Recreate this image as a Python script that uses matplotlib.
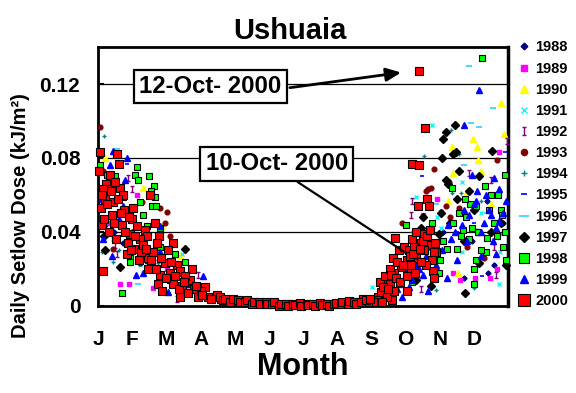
import matplotlib
matplotlib.use("Agg")
import matplotlib.pyplot as plt
from matplotlib.path import Path

plt.rcParams['font.family'] = ['Liberation Sans', 'DejaVu Sans']
plt.rcParams['font.weight'] = 'bold'

# ---------------- data (x = month position 0..12, y = dose kJ/m2) ----------------
month_labels = ["J", "F", "M", "A", "M", "J", "J", "A", "S", "O", "N", "D"]
y_ticks = [0, 0.04, 0.08, 0.12]
y_tick_labels = ["0", "0.04", "0.08", "0.12"]
years = ["1988", "1989", "1990", "1991", "1992", "1993", "1994",
         "1995", "1996", "1997", "1998", "1999", "2000"]

m_1988 = [0.20, 0.72, 1.13, 0.45, 1.60, 2.30, 9.60, 10.72, 11.40, 11.42, 11.60, 10.10, 10.95, 11.85, 9.90]
v_1988 = [0.044, 0.034, 0.031, 0.040, 0.025, 0.010, 0.030, 0.015, 0.057, 0.018, 0.022, 0.040, 0.035, 0.045, 0.020]

m_1989 = [1.13, 0.64, 0.90, 1.60, 2.00, 2.60, 11.75, 9.50, 9.93, 10.05, 10.38, 10.60, 11.04, 11.48, 11.68, 9.76, 0.30]
v_1989 = [0.060, 0.012, 0.012, 0.0097, 0.020, 0.008, 0.083, 0.049, 0.058, 0.051, 0.018, 0.014, 0.015, 0.015, 0.020, 0.019, 0.045]

m_1990 = [0.20, 0.25, 1.31, 1.86, 2.40, 11.80, 11.87, 10.98, 11.10, 10.37, 11.13, 10.40, 11.20, 10.55, 10.23, 9.76, 10.80, 11.50]
v_1990 = [0.080, 0.068, 0.064, 0.043, 0.027, 0.110, 0.093, 0.090, 0.086, 0.086, 0.079, 0.072, 0.073, 0.018, 0.057, 0.043, 0.062, 0.055]

m_1991 = [2.45, 1.22, 0.44, 0.54, 9.76, 10.66, 9.30, 9.93, 10.05, 11.76, 11.73, 10.66, 8.03, 11.20, 0.90]
v_1991 = [0.028, 0.022, 0.036, 0.049, 0.098, 0.067, 0.059, 0.048, 0.042, 0.029, 0.012, 0.029, 0.010, 0.050, 0.030]

m_1992 = [9.20, 9.17, 10.87, 11.50, 11.97, 11.65, 9.44, 9.20, 11.60, 0.87, 0.99, 0.49, 0.54, 2.92, 2.30, 10.30, 11.10]
v_1992 = [0.057, 0.049, 0.072, 0.068, 0.089, 0.017, 0.009, 0.028, 0.032, 0.069, 0.063, 0.033, 0.028, 0.017, 0.004, 0.045, 0.040]

m_1993 = [0.05, 2.00, 1.96, 2.10, 1.28, 0.44, 1.22, 1.80, 0.14, 9.84, 9.75, 10.28, 8.90, 10.31, 10.58, 11.68, 11.65,
          11.30, 10.19, 10.81, 9.60, 9.65]
v_1993 = [0.097, 0.051, 0.045, 0.038, 0.056, 0.031, 0.023, 0.053, 0.073, 0.074, 0.064, 0.067, 0.045, 0.048, 0.053, 0.079,
          0.040, 0.026, 0.054, 0.032, 0.062, 0.063]

m_1994 = [0.17, 0.11, 0.60, 0.44, 1.22, 1.75, 10.34, 9.53, 10.58, 10.37, 10.62, 9.90, 11.00, 11.76, 11.22, 9.20]
v_1994 = [0.092, 0.029, 0.030, 0.024, 0.027, 0.023, 0.095, 0.081, 0.082, 0.061, 0.061, 0.0086, 0.0097, 0.039, 0.057, 0.040]

m_1995 = [0.84, 9.47, 11.24, 11.90, 10.50, 1.50, 11.00]
v_1995 = [0.077, 0.070, 0.016, 0.083, 0.040, 0.030, 0.045]

m_1996 = [10.87, 11.57, 10.93, 11.16, 10.70, 0.55, 1.16, 1.75, 0.30, 9.90, 11.40]
v_1996 = [0.130, 0.107, 0.099, 0.097, 0.076, 0.085, 0.012, 0.029, 0.060, 0.055, 0.050]

m_1997 = [10.46, 10.17, 10.10, 10.48, 10.40, 10.08, 10.58, 11.54, 10.19, 10.25, 10.52, 10.87, 11.16, 10.05, 9.50, 9.46,
          9.97, 8.90, 9.30, 9.74, 10.75, 11.15, 11.94, 0.20, 0.63, 2.53, 0.17, 11.80, 11.50, 10.70, 10.30, 11.00]
v_1997 = [0.098, 0.094, 0.090, 0.083, 0.082, 0.080, 0.073, 0.084, 0.068, 0.066, 0.058, 0.062, 0.070, 0.050, 0.048, 0.042,
          0.039, 0.030, 0.014, 0.011, 0.007, 0.023, 0.022, 0.030, 0.021, 0.031, 0.038, 0.045, 0.040, 0.035, 0.045, 0.052]

m_1998 = [11.25, 11.92, 10.35, 11.33, 11.50, 9.00, 9.76, 10.58, 10.78, 11.07, 11.80, 11.83, 10.67, 11.39, 10.22, 10.87,
          11.36, 11.68, 11.86, 11.95, 11.00, 11.00, 9.97, 9.20, 9.00, 10.50, 10.00, 11.07, 10.95, 11.60,
          10.40, 10.62, 10.90, 11.12, 11.45, 11.72, 11.90, 10.10, 10.75, 11.20,
          0.05, 1.13, 1.49, 1.08, 1.17, 1.63, 1.54, 1.66, 1.22, 1.57, 1.70, 0.72, 0.49, 0.25, 1.31, 1.42, 1.80, 0.93,
          0.93, 2.54, 2.24, 0.69, 2.40, 1.80, 2.10, 3.30, 8.60]
v_1998 = [0.134, 0.071, 0.064, 0.065, 0.060, 0.044, 0.045, 0.050, 0.048, 0.054, 0.052, 0.049, 0.041, 0.037, 0.031, 0.036,
          0.029, 0.038, 0.032, 0.025, 0.020, 0.012, 0.018, 0.013, 0.008, 0.031, 0.025, 0.025, 0.042, 0.045,
          0.045, 0.038, 0.055, 0.040, 0.052, 0.060, 0.040, 0.035, 0.058, 0.030,
          0.076, 0.075, 0.070, 0.071, 0.068, 0.065, 0.062, 0.059, 0.056, 0.054, 0.054, 0.059, 0.070, 0.071, 0.049, 0.043,
          0.042, 0.026, 0.024, 0.024, 0.028, 0.007, 0.018, 0.032, 0.014, 0.003, 0.005]

m_1999 = [0.44, 0.84, 0.34, 0.78, 0.11, 0.72, 0.93, 0.14, 0.40, 1.10, 1.31, 1.80, 2.03, 3.06, 1.80, 1.45, 0.60, 1.00, 2.60,
          10.70, 11.16, 10.96, 11.60, 11.75, 11.36, 11.07, 10.87, 11.50, 11.65, 11.95, 10.64, 10.34, 10.08, 9.60, 9.90,
          11.65, 10.20, 9.67, 8.74, 8.33, 9.20, 9.50, 11.22, 11.75, 11.20, 10.50, 9.40,
          8.80, 9.00, 9.10, 8.90, 9.30,
          10.45, 10.70, 10.80, 11.00, 11.30, 11.45, 11.55, 11.85, 10.25, 11.10]
v_1999 = [0.084, 0.080, 0.076, 0.068, 0.058, 0.054, 0.052, 0.036, 0.027, 0.017, 0.018, 0.029, 0.0075, 0.016, 0.043, 0.025,
          0.047, 0.040, 0.012,
          0.098, 0.117, 0.071, 0.069, 0.063, 0.060, 0.057, 0.049, 0.049, 0.042, 0.057, 0.044, 0.036, 0.030, 0.027, 0.022,
          0.028, 0.015, 0.008, 0.009, 0.007, 0.014, 0.017, 0.027, 0.046, 0.040, 0.025, 0.020,
          0.012, 0.018, 0.010, 0.005, 0.022,
          0.040, 0.052, 0.035, 0.055, 0.045, 0.052, 0.035, 0.050, 0.044, 0.062]

m_2000 = [0.05, 0.54, 0.61, 0.23, 0.28, 0.63, 0.72, 0.43, 0.08, 1.02, 1.51, 0.40, 0.11, 0.69, 0.99, 1.66, 1.13, 1.37,
          0.93, 1.42, 1.77, 1.22, 1.72, 2.19, 0.84, 1.45, 2.04, 0.14, 1.45, 1.95, 2.30, 1.80, 1.75, 1.86, 2.39, 2.74,
          2.45, 2.39, 2.68, 2.92, 3.12, 3.21, 3.47, 0.14, 0.20, 0.35, 0.50, 0.75, 0.90, 1.05, 1.25, 1.60, 2.10, 2.20,
          2.55, 2.80, 3.00, 3.30, 3.60, 3.75, 3.90, 4.05, 4.20, 4.40, 4.60, 4.80, 5.00, 5.20, 5.40, 5.60, 5.80, 6.00,
          6.20, 6.40, 6.60, 6.80, 7.00, 7.20, 7.40, 7.60, 7.80, 8.00, 8.10, 8.20,
          9.57, 9.20, 9.40, 9.64, 9.35, 9.70, 8.70, 9.20, 9.50, 9.46, 9.67, 9.87, 9.90, 8.62, 9.03, 9.32, 9.76, 8.88,
          9.17, 9.79, 9.84, 8.67, 8.47, 9.03, 8.53, 8.24, 8.27, 8.15, 8.59, 7.75, 9.38,
          8.35, 8.40, 8.55, 8.75, 8.80, 8.95, 9.10, 9.15, 9.25, 9.30, 9.55, 9.60, 8.45, 8.65, 8.30, 8.05, 7.90]
v_2000 = [0.083, 0.082, 0.077, 0.066, 0.063, 0.064, 0.060, 0.056, 0.053, 0.053, 0.060, 0.049, 0.044, 0.044, 0.047, 0.045,
          0.043, 0.041, 0.039, 0.038, 0.038, 0.036, 0.034, 0.034, 0.028, 0.026, 0.030, 0.019, 0.020, 0.023, 0.022, 0.017,
          0.012, 0.008, 0.019, 0.020, 0.011, 0.005, 0.014, 0.005, 0.010, 0.005, 0.006, 0.063, 0.058, 0.071, 0.067, 0.052,
          0.048, 0.031, 0.029, 0.029, 0.018, 0.012, 0.016, 0.009, 0.008, 0.004, 0.004, 0.003, 0.003, 0.003, 0.002, 0.002,
          0.002, 0.001, 0.001, 0.001, 0.0005, 0.001, 0.0005, 0.0005, 0.001, 0.0005, 0.001, 0.001, 0.001, 0.0015, 0.002,
          0.002, 0.003, 0.003, 0.004, 0.005,
          0.096, 0.077, 0.076, 0.058, 0.054, 0.054, 0.037, 0.036, 0.039, 0.034, 0.033, 0.034, 0.029, 0.026, 0.025, 0.026,
          0.025, 0.021, 0.019, 0.019, 0.015, 0.018, 0.014, 0.008, 0.012, 0.013, 0.0075, 0.003, 0.003, 0.004, 0.127,
          0.010, 0.016, 0.020, 0.024, 0.030, 0.032, 0.030, 0.022, 0.032, 0.040, 0.030, 0.022, 0.005, 0.008, 0.002, 0.002,
          0.002]
# more 2000 readings: summer cluster, winter band, spring rise
m_2000_summer = [0.02, 0.10, 0.18, 0.26, 0.32, 0.38, 0.46, 0.52, 0.58, 0.66, 0.78, 0.86, 0.96, 1.08, 1.18, 1.30, 1.40,
                 1.55, 1.68, 1.85, 1.98, 2.12, 2.25, 2.35, 2.50, 2.62, 2.85, 3.05]
v_2000_summer = [0.073, 0.060, 0.047, 0.055, 0.040, 0.062, 0.045, 0.036, 0.058, 0.050, 0.040, 0.034, 0.030, 0.038,
                 0.025, 0.033, 0.031, 0.025, 0.020, 0.026, 0.015, 0.024, 0.016, 0.009, 0.013, 0.007, 0.011, 0.006]
m_2000_winter = [3.55, 3.65, 3.70, 3.85, 3.95, 4.10, 4.15, 4.30, 4.35, 4.50, 4.55, 4.70, 4.75, 4.90, 4.95, 5.10, 5.15,
                 5.30, 5.35, 5.50, 5.55, 5.70, 5.75, 5.90, 5.95, 6.10, 6.15, 6.30, 6.35, 6.50, 6.55, 6.70, 6.75, 6.90,
                 6.95, 7.10, 7.15, 7.30, 7.35, 7.50, 7.55, 7.70, 7.85, 7.95]
v_2000_winter = [0.005, 0.003, 0.004, 0.002, 0.004, 0.003, 0.002, 0.002, 0.003, 0.001, 0.002, 0.002, 0.001, 0.002,
                 0.001, 0.001, 0.002, 0.000, 0.001, 0.001, 0.000, 0.001, 0.0005, 0.0015, 0.000, 0.001, 0.0005, 0.001,
                 0.000, 0.0015, 0.0005, 0.001, 0.000, 0.001, 0.0015, 0.001, 0.002, 0.001, 0.0025, 0.002, 0.001, 0.002,
                 0.003, 0.004]
m_2000_spring = [8.50, 8.58, 8.72, 8.85, 8.92, 9.05, 9.12, 9.22, 9.28, 9.42, 9.45, 9.52, 9.62, 9.72, 9.82]
v_2000_spring = [0.009, 0.017, 0.015, 0.013, 0.022, 0.016, 0.027, 0.028, 0.018, 0.031, 0.024, 0.035, 0.038, 0.041, 0.029]

m_2000_all = m_2000 + m_2000_summer + m_2000_winter + m_2000_spring
v_2000_all = v_2000 + v_2000_summer + v_2000_winter + v_2000_spring

series_m = [m_1988, m_1989, m_1990, m_1991, m_1992, m_1993, m_1994, m_1995, m_1996, m_1997, m_1998, m_1999, m_2000_all]
series_v = [v_1988, v_1989, v_1990, v_1991, v_1992, v_1993, v_1994, v_1995, v_1996, v_1997, v_1998, v_1999, v_2000_all]

# ---------------- styles ----------------
ibeam = Path([(-0.6, 1), (0.6, 1), (0, 1), (0, -1), (-0.6, -1), (0.6, -1)],
             [Path.MOVETO, Path.LINETO, Path.MOVETO, Path.LINETO, Path.MOVETO, Path.LINETO])
styles = [
    dict(marker='D', color='#000080', ms=2.6, mec='#000080'),
    dict(marker='s', color='#FF00FF', ms=3.2, mec='#FF00FF'),
    dict(marker='^', color='#FFFF00', ms=4.2, mec='#FFFF00'),
    dict(marker='x', color='#00FFFF', ms=3.0, mec='#00FFFF', mew=1.0),
    dict(marker=ibeam, color='#800080', ms=4.0, mec='#800080', mfc='none', mew=1.0),
    dict(marker='o', color='#800000', ms=3.4, mec='#800000'),
    dict(marker='+', color='#008080', ms=3.5, mec='#008080', mew=1.0),
    dict(marker='_', color='#0000FF', ms=3.5, mec='#0000FF', mew=1.2),
    dict(marker='_', color='#33CCFF', ms=5.0, mec='#33CCFF', mew=1.2),
    dict(marker='D', color='#000000', ms=4.0, mec='#000000'),
    dict(marker='s', color='#00FF00', ms=5.0, mec='#000000', mew=0.8),
    dict(marker='^', color='#0000FF', ms=4.8, mec='#0000FF'),
    dict(marker='s', color='#FF0000', ms=6.3, mec='#000000', mew=0.8),
]

fig = plt.figure(figsize=(5.76, 3.93), dpi=100)
ax = fig.add_axes([0.1707, 0.2214, 0.7112, 0.659])

for yr, xs, ys, st in zip(years, series_m, series_v, styles):
    st = dict(st)
    marker = st.pop('marker')
    color = st.pop('color')
    ax.plot(xs, ys, linestyle='none', marker=marker, color=color, label=yr,
            clip_on=False, zorder=3, **st)

ax.set_xlim(0, 12)
ax.set_ylim(0, 0.14)
ax.set_yticks(y_ticks)
ax.set_yticklabels(y_tick_labels)
ax.set_xticks(range(len(month_labels)))
ax.set_xticklabels(month_labels)
ax.set_xticks(range(1, 12), minor=True)
ax.tick_params(axis='x', which='major', length=0, pad=17, labelsize=15)
ax.tick_params(axis='x', which='minor', direction='in', length=5, width=1.5)
ax.tick_params(axis='y', which='major', direction='in', length=4, width=1.5, pad=13, labelsize=15)
for t in ax.get_xticklabels() + ax.get_yticklabels():
    t.set_fontweight('bold')
for y in y_ticks[1:]:
    ax.axhline(y, color='black', lw=0.9, zorder=1)
for side, lw in [('left', 2.0), ('bottom', 2.0), ('top', 2.0), ('right', 2.5)]:
    ax.spines[side].set_linewidth(lw)

ax.set_xlabel("Month", fontsize=22, fontweight='bold')
ax.xaxis.set_label_coords(0.5, -0.178)
ax.set_ylabel("Daily Setlow Dose (kJ/m\u00b2)", fontsize=14.5, fontweight='bold')
ax.yaxis.set_label_coords(-0.168, 0.35)
fig.text(0.503, 0.922, "Ushuaia", fontsize=21, fontweight='bold', ha='center', va='center')

# annotations
box = dict(boxstyle='square,pad=0.22', fc='white', ec='black', lw=1.6)
ax.text(3.28, 0.1186, "12-Oct- 2000", fontsize=17.2, fontweight='bold', ha='center', va='center',
        bbox=box, zorder=6)
ax.text(5.23, 0.0768, "10-Oct- 2000", fontsize=17.2, fontweight='bold', ha='center', va='center',
        bbox=box, zorder=6)
ax.annotate('', xy=(8.87, 0.1262), xytext=(5.61, 0.1180),
            arrowprops=dict(arrowstyle='-|>,head_length=0.9,head_width=0.4', color='black', lw=2,
                            shrinkA=0, shrinkB=0), zorder=6)
ax.annotate('', xy=(8.97, 0.0292), xytext=(5.84, 0.0670),
            arrowprops=dict(arrowstyle='-', color='black', lw=1.6, shrinkA=0, shrinkB=0), zorder=6)

leg = fig.legend(loc='upper left', bbox_to_anchor=(0.900, 0.897), frameon=False,
                 prop=dict(size=10.5, weight='bold'), handlelength=0.7, handletextpad=0.45,
                 labelspacing=0.49, borderpad=0, borderaxespad=0, markerscale=1.3)

fig.savefig("out.png", dpi=100)
